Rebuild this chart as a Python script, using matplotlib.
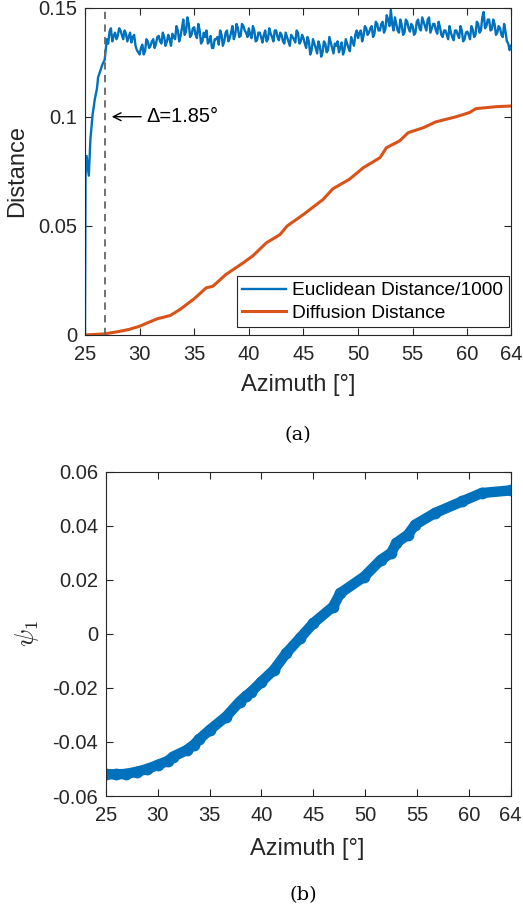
import numpy as np
import matplotlib
matplotlib.use("Agg")
import matplotlib.pyplot as plt

plt.rcParams['font.family'] = ['Liberation Sans', 'DejaVu Sans']
plt.rcParams['mathtext.fontset'] = 'cm'

BLUE = "#0072BD"
ORANGE = "#D95319"
AXC = "#262626"

# ---- panel (a): Euclidean distance / 1000 ----
eu_rise_az = [25.0, 25.05, 25.15, 25.35, 25.5, 25.7, 25.9, 26.1, 26.2, 26.4, 26.6, 26.8, 26.9]
eu_rise = [0.0, 0.073, 0.082, 0.073, 0.090, 0.101, 0.108, 0.113, 0.118, 0.121, 0.124, 0.126, 0.131]

# plateau, sampled every 0.25 deg from 27.0
eu_plateau = [
    0.1355, 0.139, 0.1345, 0.1385,
    0.137, 0.1395, 0.1355, 0.138,
    0.1365, 0.134, 0.1375, 0.1305,
    0.1285, 0.133, 0.130, 0.1345,
    0.1325, 0.1355, 0.1335, 0.137,
    0.1335, 0.1365, 0.1345, 0.1355,
    0.138, 0.1355, 0.1395, 0.137,
    0.1445, 0.139, 0.1425, 0.1375,
    0.141, 0.136, 0.1395, 0.1345,
    0.1365, 0.1335, 0.137, 0.1315,
    0.1355, 0.133, 0.1375, 0.1345,
    0.1395, 0.136, 0.1415, 0.1375,
    0.1405, 0.137, 0.1415, 0.1385,
    0.1405, 0.136, 0.1395, 0.135,
    0.1385, 0.134, 0.1395, 0.1355,
    0.138, 0.1345, 0.1395, 0.135,
    0.1375, 0.1335, 0.1365, 0.1325,
    0.1365, 0.134, 0.1385, 0.1345,
    0.136, 0.1315, 0.1345, 0.1305,
    0.1335, 0.129, 0.1325, 0.1295,
    0.1335, 0.1305, 0.134, 0.129,
    0.1325, 0.1295, 0.134, 0.1305,
    0.1335, 0.130, 0.1345, 0.1375,
    0.136, 0.1395, 0.137, 0.1405,
    0.1385, 0.1415, 0.138, 0.1425,
    0.1395, 0.1435, 0.140, 0.1445,
    0.149, 0.1395, 0.1425, 0.1385,
    0.142, 0.1385, 0.1435, 0.139,
    0.1415, 0.1385, 0.1445, 0.1395,
    0.1435, 0.1395, 0.1455, 0.1405,
    0.1425, 0.138, 0.141, 0.1365,
    0.1395, 0.1355, 0.1385, 0.135,
    0.1395, 0.136, 0.1395, 0.1355,
    0.139, 0.1355, 0.140, 0.1375,
    0.1425, 0.1395, 0.148, 0.1415,
    0.1445, 0.140, 0.1425, 0.1385,
    0.1405, 0.1365, 0.139, 0.1335,
    0.1325,
]
# in-between samples, every 0.25 deg from 27.125
eu_plateau_mid = [
    0.1335, 0.1405, 0.137, 0.1355,
    0.1405, 0.1375, 0.1395, 0.1345,
    0.1385, 0.1365, 0.1325, 0.1295,
    0.1315, 0.1285, 0.1355, 0.1315,
    0.1345, 0.1315, 0.1365, 0.1345,
    0.1385, 0.1325, 0.1375, 0.1325,
    0.1365, 0.1415, 0.1345, 0.1405,
    0.1375, 0.1455, 0.1365, 0.1405,
    0.1375, 0.1425, 0.1335, 0.1385,
    0.1395, 0.1345, 0.1315, 0.1355,
    0.1365, 0.1395, 0.1325, 0.1385,
    0.1345, 0.1385, 0.1355, 0.1425,
    0.1365, 0.1425, 0.1395, 0.1365,
    0.1375, 0.1415, 0.1345, 0.1385,
    0.1365, 0.1375, 0.1345, 0.1405,
    0.1365, 0.1395, 0.1365, 0.1385,
    0.1345, 0.1385, 0.1345, 0.1375,
    0.1355, 0.1395, 0.1335, 0.1375,
    0.1335, 0.1365, 0.1285, 0.1355,
    0.1315, 0.1345, 0.1275, 0.1345,
    0.1295, 0.1365, 0.1315, 0.1335,
    0.1345, 0.1315, 0.1285, 0.1355,
    0.1315, 0.1365, 0.1325, 0.1395,
    0.1385, 0.1345, 0.1415, 0.1375,
    0.1405, 0.1365, 0.1435, 0.1395,
    0.1425, 0.1385, 0.1465, 0.1415,
    0.1425, 0.1455, 0.1395, 0.1445,
    0.1375, 0.1445, 0.1405, 0.1425,
    0.1375, 0.1435, 0.1405, 0.1455,
    0.1415, 0.1445, 0.1385, 0.1425,
    0.1395, 0.1435, 0.1375, 0.1395,
    0.1375, 0.1415, 0.1365, 0.1395,
    0.1375, 0.1415, 0.1345, 0.1385,
    0.1375, 0.1415, 0.1365, 0.1435,
    0.1385, 0.1455, 0.1405, 0.1445,
    0.1395, 0.1445, 0.1375, 0.1415,
    0.1375, 0.1425, 0.1345, 0.1305,
]

# ---- panel (a): diffusion distance ----
diff_az = [25.0, 26.8, 28.0, 29.0, 30.0, 31.6, 32.8, 33.7, 35.0, 36.1, 36.7, 37.9, 39.5,
           40.4, 41.6, 42.85, 43.5, 45.0, 46.8, 47.7, 49.2, 50.5, 52.0, 52.6, 53.8,
           54.6, 56.0, 57.1, 59.0, 60.2, 60.8, 62.7, 64.0]
diff_val = [0.0, 0.0005, 0.0015, 0.0025, 0.004, 0.0074, 0.0089, 0.0117, 0.0166, 0.0216,
            0.0223, 0.0277, 0.0331, 0.0364, 0.0422, 0.046, 0.0499, 0.0552, 0.0621,
            0.067, 0.0713, 0.0767, 0.0812, 0.0858, 0.0889, 0.0927, 0.095, 0.0976,
            0.100, 0.1019, 0.1037, 0.1046, 0.1049]

delta_az = 26.85

# ---- panel (b): first diffusion coordinate psi_1 ----
psi_az = [25, 26, 27, 28, 29, 30, 31, 31.5, 32.8, 33.5, 34, 35, 36.6, 37.9, 38.5, 39, 40,
          41.2, 42.4, 43.7, 45, 46.9, 47.6, 49.9, 51.5, 52.5, 53, 54.1, 54.8, 56.7,
          59.3, 61.2, 64]
psi_val = [-0.0519, -0.052, -0.0518, -0.051, -0.050, -0.0485, -0.047, -0.0454, -0.043,
           -0.041, -0.039, -0.0356, -0.0306, -0.0251, -0.023, -0.0215, -0.0177, -0.0133,
           -0.0071, -0.0016, 0.004, 0.0101, 0.0151, 0.0212, 0.0274, 0.030, 0.0337,
           0.0367, 0.0404, 0.0447, 0.049, 0.0521, 0.0531]

x_ticks = [25, 30, 35, 40, 45, 50, 55, 60, 64]

# merge the two plateau samplings into one ordered series
plat_az = list(27.0 + 0.25 * np.arange(len(eu_plateau)))
mid_az = list(27.125 + 0.25 * np.arange(len(eu_plateau_mid)))
pairs = sorted(zip(plat_az + mid_az, eu_plateau + eu_plateau_mid))
eu_az = eu_rise_az + [p[0] for p in pairs]
eu_val = eu_rise + [p[1] for p in pairs]

fig = plt.figure(figsize=(5.23, 9.11), dpi=100)
ax1 = fig.add_axes([0.1625, 0.6323, 0.8145, 0.3594])
ax2 = fig.add_axes([0.2021, 0.1262, 0.7744, 0.356])


def style(ax):
    for s in ax.spines.values():
        s.set_color(AXC)
        s.set_linewidth(0.8)
    ax.tick_params(direction='in', top=True, right=True, length=5, width=0.8,
                   color=AXC, labelcolor=AXC, labelsize=14.5)
    ax.tick_params(axis='x', pad=7.5)
    ax.tick_params(axis='y', pad=5.5)


ax1.plot(eu_az, eu_val, color=BLUE, lw=1.7, label='Euclidean Distance/1000')
ax1.plot(diff_az, diff_val, color=ORANGE, lw=2.2, label='Diffusion Distance')
ax1.axvline(delta_az, color='#666666', lw=1.3, ls=(0, (4, 3)))
ax1.annotate('Δ=1.85°', xy=(27.45, 0.1), xytext=(30.65, 0.1), fontsize=14.4,
             va='center', ha='left', color='black',
             arrowprops=dict(arrowstyle='->', color='black', lw=1.0,
                             shrinkA=2, shrinkB=0, mutation_scale=14))
ax1.set_xlim(25, 64)
ax1.set_ylim(0, 0.15)
ax1.set_xticks(x_ticks)
ax1.set_yticks([0, 0.05, 0.1, 0.15])
ax1.set_yticklabels(['0', '0.05', '0.1', '0.15'])
style(ax1)
ax1.set_xlabel('Azimuth [°]', fontsize=17, color=AXC)
ax1.set_ylabel('Distance', fontsize=17, color=AXC)
ax1.xaxis.set_label_coords(0.5, -0.118)
ax1.yaxis.set_label_coords(-0.134, 0.5)
leg = ax1.legend(loc='lower right', bbox_to_anchor=(0.995, 0.023), borderaxespad=0,
                 fancybox=False, edgecolor=AXC, framealpha=1, fontsize=13.8,
                 handlelength=2.3, handletextpad=0.3, borderpad=0.3, labelspacing=0.25)
leg.get_frame().set_linewidth(0.8)

ax2.plot(psi_az, psi_val, color=BLUE, lw=7.5, solid_capstyle='round',
         solid_joinstyle='round', marker='o', ms=7.5, mec=BLUE)
ax2.set_xlim(25, 64)
ax2.set_ylim(-0.06, 0.06)
ax2.set_xticks(x_ticks)
ax2.set_yticks([-0.06, -0.04, -0.02, 0, 0.02, 0.04, 0.06])
ax2.set_yticklabels(['-0.06', '-0.04', '-0.02', '0', '0.02', '0.04', '0.06'])
style(ax2)
ax2.set_xlabel('Azimuth [°]', fontsize=17, color=AXC)
ax2.set_ylabel(r'$\psi_1$', fontsize=19, color=AXC)
ax2.xaxis.set_label_coords(0.497, -0.128)
ax2.yaxis.set_label_coords(-0.16, 0.5)

fig.text(298 / 523, 1 - 435 / 911, '(a)', fontsize=14, family='DejaVu Serif',
         ha='center', va='center')
fig.text(303 / 523, 1 - 895 / 911, '(b)', fontsize=14, family='DejaVu Serif',
         ha='center', va='center')

fig.savefig('out.png', dpi=100)
